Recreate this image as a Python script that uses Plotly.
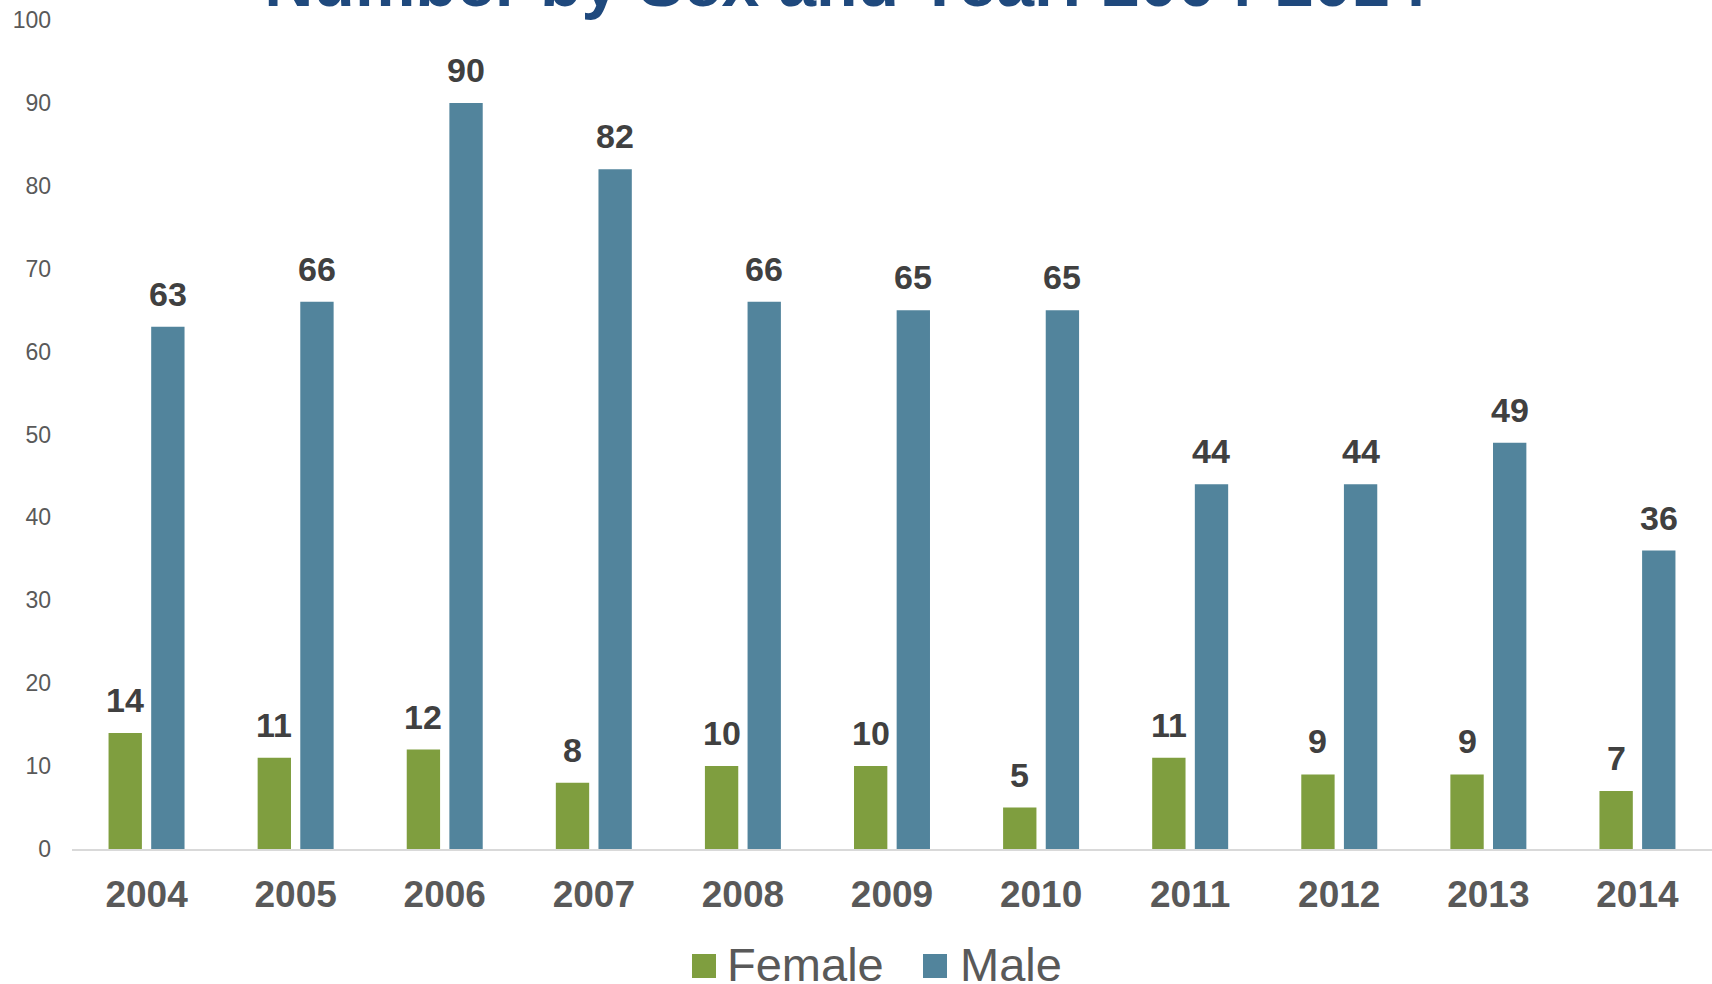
import plotly.graph_objects as go

years = ["2004", "2005", "2006", "2007", "2008", "2009", "2010", "2011", "2012", "2013", "2014"]
female = [14, 11, 12, 8, 10, 10, 5, 11, 9, 9, 7]
male = [63, 66, 90, 82, 66, 65, 65, 44, 44, 49, 36]
series_names = ["Female", "Male"]
title_text = "Number by Sex and Year: 2004-2014"

GREEN = "#7F9E3F"
BLUE = "#52849C"
FONT = "Liberation Sans, Arial, sans-serif"

fig = go.Figure()
fig.add_trace(go.Bar(x=years, y=female, name=series_names[0], marker_color=GREEN,
                     marker_line_width=0, showlegend=False))
fig.add_trace(go.Bar(x=years, y=male, name=series_names[1], marker_color=BLUE,
                     marker_line_width=0, showlegend=False))

label_font = dict(family=FONT, size=34, color="#404040")
annotations = []
for vals, shift in ((female, -21.3), (male, 21.3)):
    for i, v in enumerate(vals):
        annotations.append(dict(x=i, y=v, text="<b>%d</b>" % v, showarrow=False,
                                xref="x", yref="y", xanchor="center", yanchor="bottom",
                                xshift=shift, yshift=12, font=label_font))

# manual legend (large square swatches like the reference)
PLOT_L, PLOT_W, PLOT_B, PLOT_H = 72, 1640, 849.0, 829.0
def px_x(px):
    return (px - PLOT_L) / PLOT_W
def px_y(py):
    return (PLOT_B - py) / PLOT_H

shapes = []
legend_items = [(series_names[0], GREEN, 692, 725), (series_names[1], BLUE, 923, 958)]
for name, color, sx, tx in legend_items:
    shapes.append(dict(type="rect", xref="paper", yref="paper",
                       x0=px_x(sx), x1=px_x(sx + 24), y0=px_y(978), y1=px_y(954),
                       fillcolor=color, line_width=0))
    annotations.append(dict(x=px_x(tx), y=px_y(965), xref="paper", yref="paper",
                            text=name, showarrow=False, xanchor="left", yanchor="middle",
                            font=dict(family=FONT, size=47, color="#595959")))

fig.update_layout(
    width=1712, height=984,
    margin=dict(l=72, r=0, t=20, b=135, autoexpand=False),
    paper_bgcolor="white", plot_bgcolor="white",
    barmode="group", bargap=0.428, bargroupgap=0.218,
    font=dict(family=FONT, color="#595959"),
    showlegend=False,
    title=dict(text="<b>%s</b>" % title_text, x=0.494, xref="container", xanchor="center",
               y=1 - 6 / 984, yref="container", yanchor="bottom", automargin=False,
               font=dict(family=FONT, size=68, color="#1F497D")),
    xaxis=dict(type="category", range=[-0.5, len(years) - 0.5], automargin=False,
               showline=True, linecolor="#D9D9D9", linewidth=2, showgrid=False,
               ticks="", ticklabelstandoff=12,
               tickfont=dict(size=37, color="#595959", family=FONT),
               tickprefix="<b>", ticksuffix="</b>"),
    yaxis=dict(range=[0, 100], dtick=10, showgrid=False, zeroline=False, showline=False,
               automargin=False, ticks="", ticklabelstandoff=20,
               tickfont=dict(size=23, color="#595959", family=FONT)),
    shapes=shapes,
    annotations=annotations,
)

fig.write_html("out.html", config={"displayModeBar": False},
               post_script="document.body.style.margin='0';document.body.style.overflow='hidden';")
